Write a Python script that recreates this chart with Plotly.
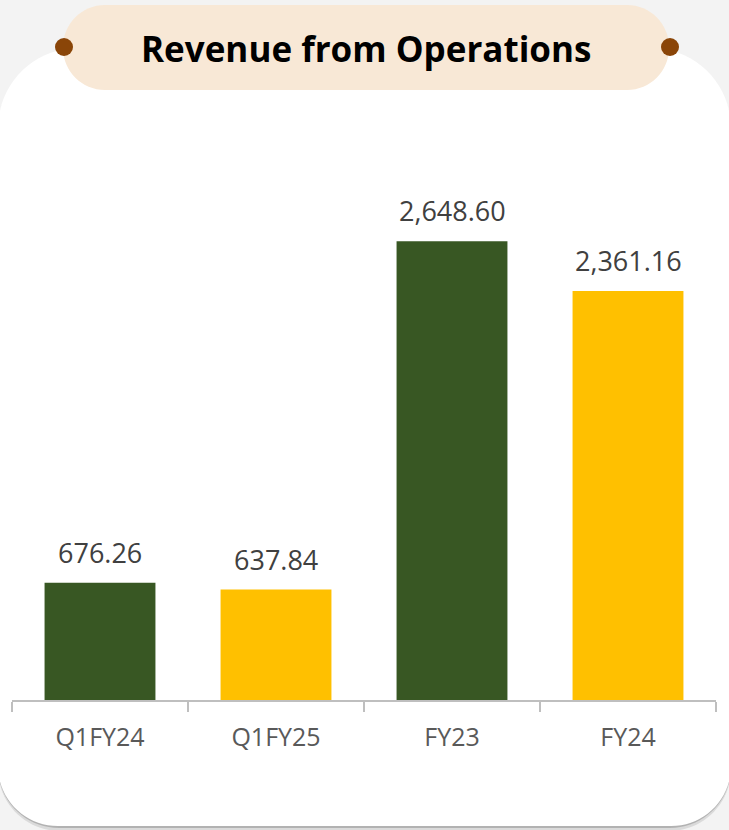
import plotly.graph_objects as go

W, H = 729, 830

categories = ["Q1FY24", "Q1FY25", "FY23", "FY24"]
revenue = [676.26, 637.84, 2648.60, 2361.16]
value_labels = ["676.26", "637.84", "2,648.60", "2,361.16"]
bar_colors = ["#385723", "#FFC000", "#385723", "#FFC000"]
title_text = "Revenue from Operations"


def px(x):
    return x / W


def py(y):
    return 1 - y / H


def pt(x, y):
    return f"{px(x):.5f},{py(y):.5f}"


def rrect(x0, y0, x1, y1, rt, rb):
    k = 0.5523
    s = f"M {pt(x0 + rt, y0)} L {pt(x1 - rt, y0)} "
    s += f"C {pt(x1 - rt + k * rt, y0)} {pt(x1, y0 + rt - k * rt)} {pt(x1, y0 + rt)} "
    s += f"L {pt(x1, y1 - rb)} "
    s += f"C {pt(x1, y1 - rb + k * rb)} {pt(x1 - rb + k * rb, y1)} {pt(x1 - rb, y1)} "
    s += f"L {pt(x0 + rb, y1)} "
    s += f"C {pt(x0 + rb - k * rb, y1)} {pt(x0, y1 - rb + k * rb)} {pt(x0, y1 - rb)} "
    s += f"L {pt(x0, y0 + rt)} "
    s += f"C {pt(x0, y0 + rt - k * rt)} {pt(x0 + rt - k * rt, y0)} {pt(x0 + rt, y0)} Z"
    return s


fig = go.Figure()
fig.add_trace(go.Bar(
    x=categories, y=revenue, marker=dict(color=bar_colors, line=dict(width=0)),
    hoverinfo="skip", showlegend=False,
))

annotations = []
for c, v, lab in zip(categories, revenue, value_labels):
    annotations.append(dict(
        x=c, y=v, xref="x", yref="y", text=lab, showarrow=False,
        yanchor="bottom", yshift=10,
        font=dict(family="Open Sans", size=27, color="#404040"),
    ))
annotations.append(dict(
    x=px(366), y=py(48), xref="paper", yref="paper", text=f"<b>{title_text}</b>",
    showarrow=False, xanchor="center", yanchor="middle",
    font=dict(family="Open Sans", size=35, color="#000000"),
))

shapes = []
# card shadow
shapes.append(dict(type="path", path=rrect(-2, 52, 731, 831, 80, 62), xref="paper", yref="paper",
                   fillcolor="rgba(0,0,0,0.10)", line=dict(width=0), layer="below"))
shapes.append(dict(type="path", path=rrect(-2, 50, 731, 828, 80, 61), xref="paper", yref="paper",
                   fillcolor="rgba(0,0,0,0.18)", line=dict(width=0), layer="below"))
# card
shapes.append(dict(type="path", path=rrect(-2, 48, 731, 826, 80, 60), xref="paper", yref="paper",
                   fillcolor="#ffffff", line=dict(width=0), layer="below"))
# title pill
shapes.append(dict(type="path", path=rrect(63, 5, 669, 90, 42, 42), xref="paper", yref="paper",
                   fillcolor="#f8e8d6", line=dict(width=0), layer="below"))
# dots
for cx in (64, 670):
    shapes.append(dict(type="circle", xref="paper", yref="paper",
                       x0=px(cx - 9), x1=px(cx + 9), y0=py(47 + 9), y1=py(47 - 9),
                       fillcolor="#8a4508", line=dict(width=0), layer="above"))

fig.update_layout(
    width=W, height=H,
    margin=dict(l=0, r=0, t=0, b=0),
    paper_bgcolor="#f3f3f3", plot_bgcolor="rgba(0,0,0,0)",
    bargap=0.37,
    xaxis=dict(
        domain=[12 / W, 716 / W], showgrid=False, zeroline=False,
        showline=True, linecolor="#bfbfbf", linewidth=2,
        ticks="outside", tickson="boundaries", ticklen=10, tickcolor="#bfbfbf", tickwidth=2,
        tickfont=dict(family="Open Sans", size=25, color="#595959"),
        ticklabelstandoff=14,
        fixedrange=True,
    ),
    yaxis=dict(
        domain=[1 - 700 / H, 1 - 130 / H], range=[0, 3291], visible=False, fixedrange=True,
    ),
    shapes=shapes,
    annotations=annotations,
)

fig.write_html(
    "out.html",
    config={"displayModeBar": False},
    post_script="document.body.style.margin='0';document.body.style.padding='0';document.body.style.overflow='hidden';",
)
